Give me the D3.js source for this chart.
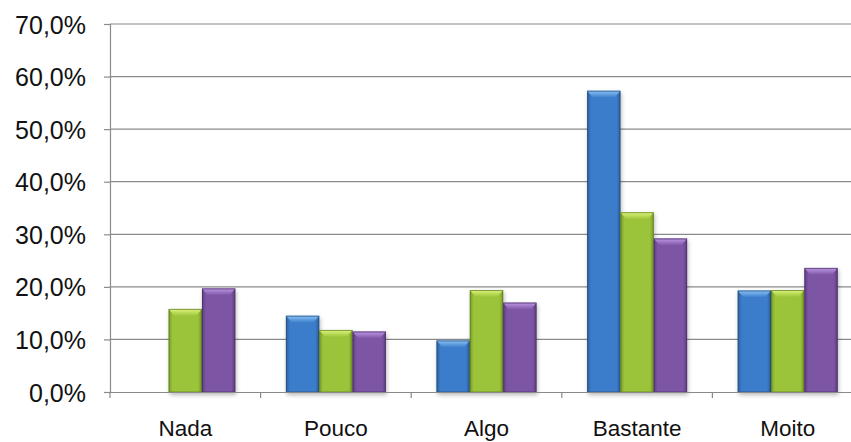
<!DOCTYPE html>
<html><head><meta charset="utf-8">
<script src="https://cdn.jsdelivr.net/npm/d3@7"></script>
<style>html,body{margin:0;padding:0;background:#fff;}svg{display:block;}</style>
</head><body><svg id="c" width="851" height="442"></svg>
<script>
const categories = ["Nada","Pouco","Algo","Bastante","Moito"];
const seriesNames = ["S1","S2","S3"];
const s1 = [0, 14.5, 9.8, 57.3, 19.3];
const s2 = [15.8, 11.8, 19.4, 34.2, 19.4];
const s3 = [19.7, 11.5, 17.0, 29.2, 23.6];
const yTicks = [0,10,20,30,40,50,60,70];
const colors = [
  {base:"#3b7dca", dark:"#2c5f9c", light:"#8cc4f7", edge:"#2a4f7e"},
  {base:"#9cc43a", dark:"#789c28", light:"#def57e", edge:"#5f7a22"},
  {base:"#7d55a5", dark:"#5d3d80", light:"#be98e6", edge:"#4a3066"}
];
const series = [s1,s2,s3];

const svg = d3.select("#c");
const W = 851, H = 442;
const mLeft = 110, mBottom = 392, mTop = 24, mRight = 863;
const x = d3.scaleBand().domain(categories).range([mLeft, mRight]).paddingInner(0).paddingOuter(0);
const y = d3.scaleLinear().domain([0,70]).range([mBottom, mTop]);
const inner = d3.scaleBand().domain(seriesNames).range([0, 100]);
const groupOffset = (x.bandwidth() - 100)/2;

const defs = svg.append("defs");
colors.forEach((c,i)=>{
  const g = defs.append("linearGradient").attr("id","body"+i).attr("x1","0").attr("x2","1").attr("y1","0").attr("y2","0");
  g.append("stop").attr("offset","0").attr("stop-color",c.dark);
  g.append("stop").attr("offset","0.12").attr("stop-color",c.base);
  g.append("stop").attr("offset","0.88").attr("stop-color",c.base);
  g.append("stop").attr("offset","1").attr("stop-color",c.dark);
  const t = defs.append("linearGradient").attr("id","top"+i).attr("x1","0").attr("x2","0").attr("y1","0").attr("y2","1");
  t.append("stop").attr("offset","0").attr("stop-color",c.light);
  t.append("stop").attr("offset","1").attr("stop-color",c.base);
});
const f = defs.append("filter").attr("id","sh").attr("x","-20%").attr("y","-20%").attr("width","140%").attr("height","140%");
f.append("feGaussianBlur").attr("stdDeviation",2.2);

svg.append("rect").attr("width",W).attr("height",H).attr("fill","#fff");

svg.append("g").selectAll("line").data(yTicks.filter(d=>d>0)).join("line")
  .attr("x1",mLeft).attr("x2",W).attr("y1",d=>y(d)).attr("y2",d=>y(d))
  .attr("stroke","#8a8a8a").attr("stroke-width",1.2);

const yAxis = d3.axisLeft(y).tickValues(yTicks).tickSize(6).tickPadding(18)
  .tickFormat(d=>d3.format(".1f")(d).replace(".",",")+"%");
const ya = svg.append("g").attr("transform",`translate(${mLeft},0)`).call(yAxis);
ya.select(".domain").attr("stroke","#8a8a8a").attr("stroke-width",1.2);
ya.selectAll(".tick line").attr("stroke","#8a8a8a").attr("stroke-width",1.2);
ya.selectAll("text").attr("font-family","Liberation Sans, Arial, sans-serif").attr("font-size",25).attr("fill","#111").attr("dy","0.36em");

series.forEach((vals,si)=>{
  const g = svg.append("g");
  const data = categories.map((c,ci)=>({c, v: vals[ci]})).filter(d=>d.v>0);
  const bx = d=>x(d.c)+groupOffset+inner(seriesNames[si]);
  const bw = inner.bandwidth();
  g.selectAll("rect.sh").data(data).join("rect").attr("class","sh")
    .attr("x",d=>bx(d)+1).attr("y",d=>y(d.v)+2).attr("width",bw).attr("height",d=>mBottom-y(d.v)+1)
    .attr("fill","rgba(0,0,0,0.28)").attr("filter","url(#sh)");
  g.selectAll("rect.b").data(data).join("rect").attr("class","b")
    .attr("x",d=>bx(d)).attr("y",d=>y(d.v)).attr("width",bw).attr("height",d=>mBottom-y(d.v))
    .attr("fill",`url(#body${si})`);
  g.selectAll("path.t").data(data).join("path").attr("class","t")
    .attr("d",d=>{const X=bx(d), Y=y(d.v), b=6;
      return `M${X},${Y}L${X+bw},${Y}L${X+bw-b},${Y+b+1}L${X+b},${Y+b+1}Z`;})
    .attr("fill",`url(#top${si})`);
  g.selectAll("rect.o").data(data).join("rect").attr("class","o")
    .attr("x",d=>bx(d)+0.5).attr("y",d=>y(d.v)+0.5).attr("width",bw-1).attr("height",d=>mBottom-y(d.v)-0.5)
    .attr("fill","none").attr("stroke",colors[si].edge).attr("stroke-opacity",0.7).attr("stroke-width",1);
});

const xAxis = d3.axisBottom(x).tickSize(0).tickPadding(28);
const xa = svg.append("g").attr("transform",`translate(0,${mBottom})`).call(xAxis);
xa.select(".domain").attr("stroke","#8a8a8a").attr("stroke-width",1.2);
xa.selectAll("text").attr("font-family","Liberation Sans, Arial, sans-serif").attr("font-size",22.5).attr("fill","#111").attr("dy","0.71em");
svg.append("g").selectAll("line").data(categories).join("line")
  .attr("x1",d=>x(d)).attr("x2",d=>x(d)).attr("y1",mBottom).attr("y2",mBottom+6)
  .attr("stroke","#8a8a8a").attr("stroke-width",1.2);
</script></body></html>
